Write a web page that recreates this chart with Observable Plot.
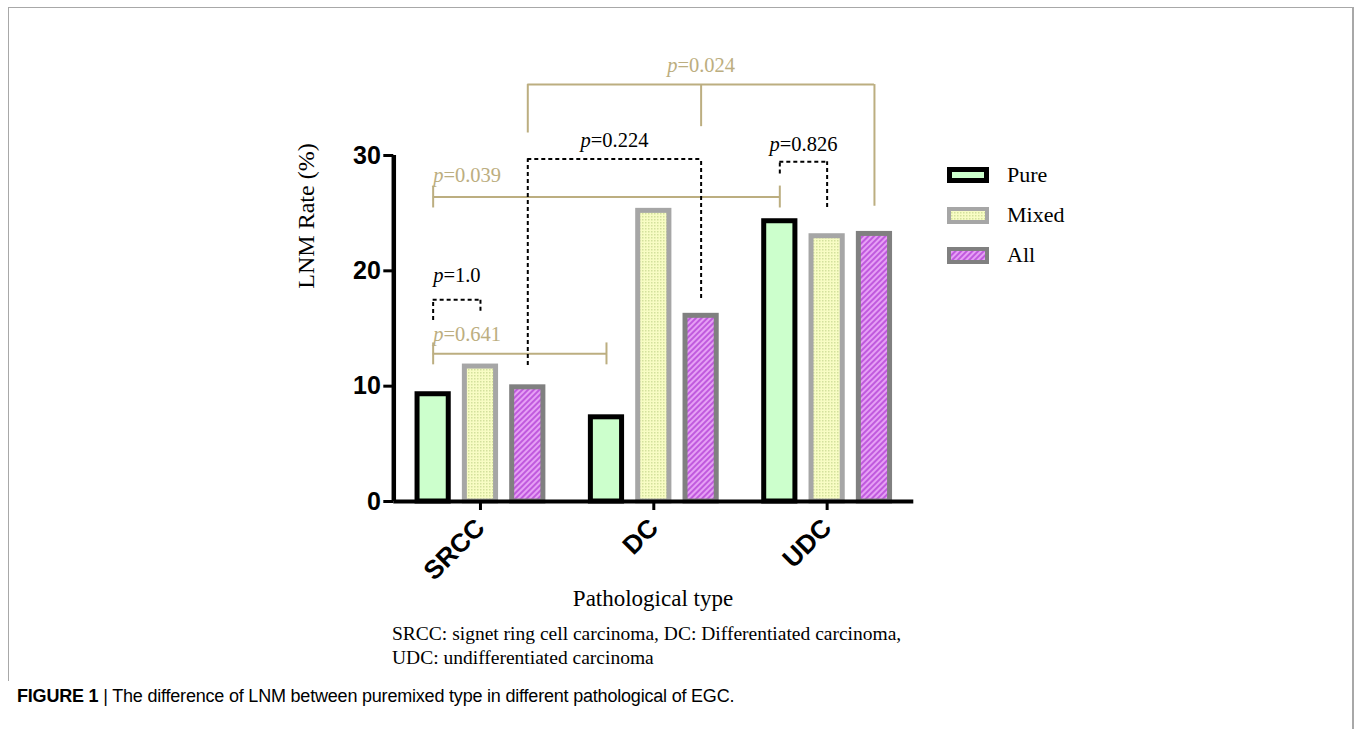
<!DOCTYPE html>
<html>
<head>
<meta charset="utf-8">
<script src="https://cdn.jsdelivr.net/npm/d3@7"></script>
<script src="https://cdn.jsdelivr.net/npm/@observablehq/plot@0.6"></script>
<style>
  html, body { margin: 0; padding: 0; background: #fff; }
  body { position: relative; width: 1356px; height: 729px; overflow: hidden; }
  #chart { position: absolute; left: 0; top: 0; }
  #chart svg g[aria-label="y-axis tick label"] { font: bold 25px "Liberation Sans", Arial, sans-serif; }
  #chart svg g[aria-label="x-axis tick label"] { font: bold 26px "Liberation Sans", Arial, sans-serif; }
  .serif { font-family: "Liberation Serif", "Times New Roman", serif; color: #000; }
  .abs { position: absolute; white-space: nowrap; }
  #frameTL { position: absolute; left: 8px; top: 7px; width: 1345px; height: 674px;
             border-top: 1.5px solid #a8a8a8; border-left: 1.5px solid #a8a8a8; box-sizing: border-box; }
  #frameR { position: absolute; left: 1352px; top: 7px; width: 1.5px; height: 722px; background: #a8a8a8; }
  .leg { position: absolute; left: 1007px; font-size: 22px; line-height: 22px; }
</style>
</head>
<body>
<svg width="0" height="0" style="position:absolute">
  <defs>
    <pattern id="dots" width="3" height="3" patternUnits="userSpaceOnUse">
      <rect width="3" height="3" fill="#f8fcc4"/>
      <rect width="1.5" height="1.5" fill="#d3e09c"/>
    </pattern>
    <pattern id="hatch" width="4" height="4" patternUnits="userSpaceOnUse" patternTransform="rotate(45)">
      <rect width="4" height="4" fill="#e6a0f5"/>
      <rect width="2" height="4" fill="#c05ade"/>
    </pattern>
  </defs>
</svg>
<div id="frameTL"></div>
<div id="frameR"></div>
<div id="chart"></div>

<script>
// ---------------- data ----------------
const categories = ["SRCC", "DC", "UDC"];
const seriesNames = ["Pure", "Mixed", "All"];
const pureValues  = [9.3, 7.3, 24.3];
const mixedValues = [11.7, 25.2, 23.0];
const allValues   = [9.9, 16.1, 23.2];
const yTicks = [0, 10, 20, 30];

// significance brackets: endpoints are (category, series) bars; heights in LNM-rate units
const brackets = [
  {p: "1.0",   kind: "dash", legs: [["SRCC", "Pure", 15.7], ["SRCC", "Mixed", 16.5]], y: 17.5, labelY: 19.6, anchor: "start"},
  {p: "0.641", kind: "tan",  legs: [["SRCC", "Pure", null], ["DC", "Pure", null]],    y: 12.8, labelY: 14.5, anchor: "start"},
  {p: "0.039", kind: "tan",  legs: [["SRCC", "Pure", null], ["UDC", "Pure", null]],   y: 26.4, labelY: 28.3, anchor: "start"},
  {p: "0.224", kind: "dash", legs: [["SRCC", "All", 11.8], ["DC", "All", 17.6]],      y: 29.7, labelY: 31.3, anchor: "middle"},
  {p: "0.826", kind: "dash", legs: [["UDC", "Pure", 28.4], ["UDC", "Mixed", 25.5]],   y: 29.45, labelY: 31.0, anchor: "middle"},
  {p: "0.024", kind: "tan",  legs: [["SRCC", "All", 31.95], ["DC", "All", 32.5], ["UDC", "All", 25.6]], y: 36.15, labelY: 37.85, anchor: "middle"}
];

// ---------------- layout helpers ----------------
const seriesOffset = 0.273;   // spacing of bars within a group (group units)
const barHalf = 0.09;         // half bar width (group units)
const capHalf = 0.95;         // half height of solid bracket end caps
const TAN = "#bcae80";
const pos = (cat, ser) => categories.indexOf(cat) + (seriesNames.indexOf(ser) - 1) * seriesOffset;

const valuesBySeries = {Pure: pureValues, Mixed: mixedValues, All: allValues};
const seriesStyle = {
  Pure:  {fill: "#ccffcc",     stroke: "#000000"},
  Mixed: {fill: "url(#dots)",  stroke: "#a6a6a6"},
  All:   {fill: "url(#hatch)", stroke: "#808080"}
};

const rows = [];
seriesNames.forEach(s => categories.forEach((c, i) => {
  const x = pos(c, s);
  rows.push({category: c, series: s, value: valuesBySeries[s][i], base: 0, x1: x - barHalf, x2: x + barHalf});
}));

const hLines = brackets.map(b => {
  const xs = b.legs.map(l => pos(l[0], l[1]));
  return {kind: b.kind, y: b.y, x1: d3.min(xs), x2: d3.max(xs)};
});
const legLines = [];
brackets.forEach(b => b.legs.forEach(l => {
  const x = pos(l[0], l[1]);
  if (b.kind === "tan" && l[2] == null) legLines.push({kind: b.kind, x, y1: b.y - capHalf, y2: b.y + capHalf});
  else legLines.push({kind: b.kind, x, y1: l[2], y2: b.y});
}));
const labels = brackets.map(b => {
  const xs = b.legs.map(l => pos(l[0], l[1]));
  return {text: "p=" + b.p, x: b.anchor === "start" ? d3.min(xs) : (d3.min(xs) + d3.max(xs)) / 2,
          y: b.labelY, color: b.kind === "tan" ? TAN : "#000", anchor: b.anchor};
});

const barMarks = seriesNames.map(s => Plot.rect(rows.filter(r => r.series === s), {
  x1: "x1", x2: "x2", y1: "base", y2: "value",
  fill: seriesStyle[s].fill, stroke: seriesStyle[s].stroke, strokeWidth: 5
}));

const chart = Plot.plot({
  width: 1356, height: 729,
  marginLeft: 393.3, marginRight: 442.7, marginTop: 155, marginBottom: 228,
  x: {domain: [-0.5, 2.5]},
  y: {domain: [0, 30]},
  color: {type: "identity"},
  style: {background: "transparent", overflow: "visible"},
  marks: [
    ...barMarks,
    Plot.ruleY(hLines.filter(d => d.kind === "tan"), {y: "y", x1: "x1", x2: "x2", stroke: TAN, strokeWidth: 2}),
    Plot.ruleX(legLines.filter(d => d.kind === "tan"), {x: "x", y1: "y1", y2: "y2", stroke: TAN, strokeWidth: 2}),
    Plot.ruleY(hLines.filter(d => d.kind === "dash"), {y: "y", x1: "x1", x2: "x2", stroke: "#000", strokeWidth: 2, strokeDasharray: "4,3"}),
    Plot.ruleX(legLines.filter(d => d.kind === "dash"), {x: "x", y1: "y1", y2: "y2", stroke: "#000", strokeWidth: 2, strokeDasharray: "4,3"}),
    Plot.text(labels.filter(d => d.anchor === "start"), {x: "x", y: "y", text: "text", fill: "color", textAnchor: "start",
      fontFamily: "Liberation Serif", fontSize: 20.5}),
    Plot.text(labels.filter(d => d.anchor === "middle"), {x: "x", y: "y", text: "text", fill: "color", textAnchor: "middle",
      fontFamily: "Liberation Serif", fontSize: 20.5}),
    Plot.axisY({ticks: yTicks, tickSize: 10, tickPadding: 3, strokeWidth: 3, label: null}),
    Plot.axisX({ticks: [0, 1, 2], tickFormat: i => categories[i], tickRotate: -45, tickSize: 9, tickPadding: 13, strokeWidth: 3, label: null}),
    Plot.ruleX([-0.5], {y1: 0, y2: 30, strokeWidth: 4.5, stroke: "#000"}),
    Plot.ruleY([0], {x1: -0.5, x2: 2.5, strokeWidth: 4, stroke: "#000"})
  ]
});
document.getElementById("chart").appendChild(chart);

// italic "p" in significance labels
d3.select(chart).selectAll("text").each(function () {
  const t = this.textContent;
  if (t.startsWith("p=")) {
    const sel = d3.select(this);
    sel.text(null);
    sel.append("tspan").attr("font-style", "italic").text("p");
    sel.append("tspan").text(t.slice(1));
  }
});
</script>

<!-- axis titles, legend, caption -->
<div class="abs serif" style="left:306px; top:216px; font-size:24px; transform: translate(-50%,-50%) rotate(-90deg);">LNM Rate (%)</div>
<div class="abs serif" style="left:653px; top:586px; font-size:23px; transform: translateX(-50%);">Pathological type</div>

<div class="abs">
  <svg style="position:absolute; left:945px; top:164px; overflow:visible" width="48" height="104">
    <rect x="4.5" y="5.5" width="37" height="11" fill="#ccffcc" stroke="#000" stroke-width="5"/>
    <rect x="4" y="45" width="38" height="13" fill="url(#dots)" stroke="#a6a6a6" stroke-width="4"/>
    <rect x="4" y="85" width="38" height="13" fill="url(#hatch)" stroke="#808080" stroke-width="4"/>
  </svg>
</div>
<div class="leg serif" style="top:164px;">Pure</div>
<div class="leg serif" style="top:204px;">Mixed</div>
<div class="leg serif" style="top:244px;">All</div>

<div class="abs serif" style="left:392px; top:622px; font-size:19.5px; line-height:24px;">SRCC: signet ring cell carcinoma, DC: Differentiated carcinoma,<br>UDC: undifferentiated carcinoma</div>

<div class="abs" style="left:17px; top:686px; font-family:'Liberation Sans', Arial, sans-serif; font-size:18px; letter-spacing:-0.2px; color:#000;"><b>FIGURE 1</b> | The difference of LNM between puremixed type in different pathological of EGC.</div>
</body>
</html>
